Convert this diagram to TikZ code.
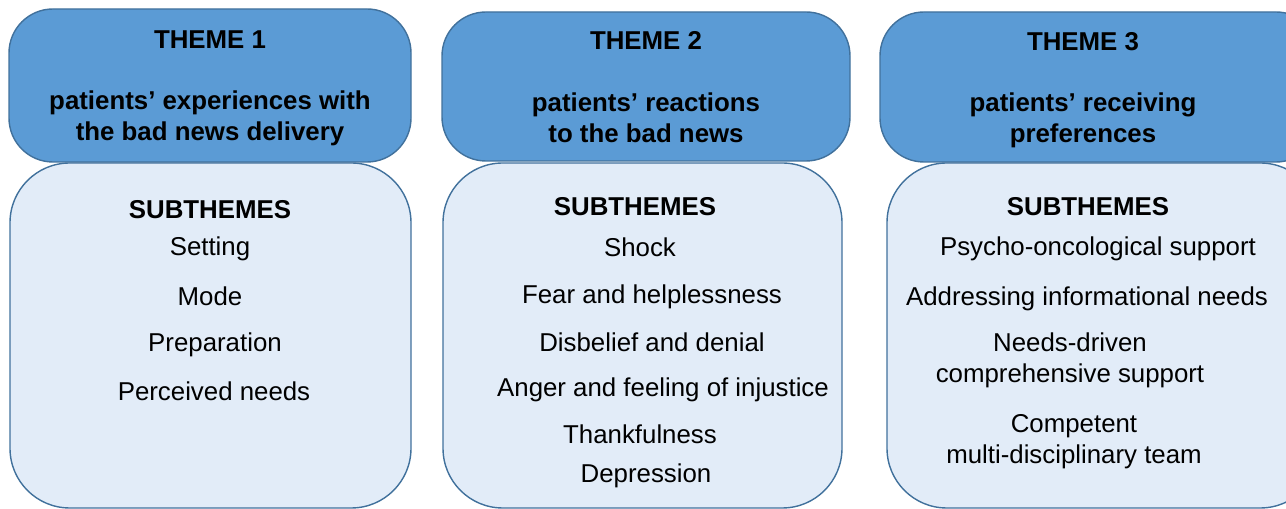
\documentclass[tikz,border=0pt]{standalone}
\usepackage{fontspec}
\setmainfont{Liberation Sans}
\usepackage{xcolor}
\usepackage{tikz}
\usetikzlibrary{positioning}
\definecolor{themeblue}{HTML}{5B9BD5}
\definecolor{themeedge}{HTML}{41719C}
\definecolor{subfill}{HTML}{E2ECF8}
\tikzset{
  headbox/.style={rounded corners=25pt,fill=themeblue,draw=themeedge,line width=0.8pt},
  subbox/.style={rounded corners=34pt,fill=subfill,draw=themeedge,line width=0.8pt},
  headtxt/.style={font=\fontsize{14.7}{17.8}\selectfont\bfseries,align=center,inner sep=0pt},
  subtxt/.style={font=\fontsize{14.7}{17.8}\selectfont,align=center,inner sep=0pt},
}
\begin{document}
\begin{tikzpicture}[x=0.02cm,y=-0.02cm]
    \clip (0,0) rectangle (1286,509);
    % lower boxes
    \draw[subbox] (10,163) rectangle (411,508);
    \draw[subbox] (443,163) rectangle (842,508);
    \draw[subbox] (887,163) rectangle (1320,508);
    % header boxes
    \draw[headbox] (9,9) rectangle (411,162);
    \draw[headbox] (442,12) rectangle (850,161);
    \draw[headbox] (880,12) rectangle (1320,162);
    % theme 1
    \node[headtxt] (t1) at (210,40) {THEME 1};
    \node[headtxt] (t1name) at (210,118) {patients’ experiences with\\the bad news delivery};
    \node[headtxt] (s1) at (210,210) {SUBTHEMES};
    \node[subtxt] (s1a) at (210,249) {Setting};
    \node[subtxt] (s1b) at (210,296) {Mode};
    \node[subtxt] (s1c) at (215,345) {Preparation};
    \node[subtxt] (s1d) at (214,391) {Perceived needs};
    % theme 2
    \node[headtxt] (t2) at (646,40) {THEME 2};
    \node[headtxt] (t2name) at (646,118) {patients’ reactions\\to the bad news};
    \node[headtxt] (s2) at (635,207) {SUBTHEMES};
    \node[subtxt] (s2a) at (640,247) {Shock};
    \node[subtxt] (s2b) at (652,297) {Fear and helplessness};
    \node[subtxt] (s2c) at (652,342) {Disbelief and denial};
    \node[subtxt] (s2d) at (663,390) {Anger and feeling of injustice};
    \node[subtxt] (s2e) at (640,434) {Thankfulness};
    \node[subtxt] (s2f) at (646,476) {Depression};
    % theme 3
    \node[headtxt] (t3) at (1083,42) {THEME 3};
    \node[headtxt] (t3name) at (1083,120) {patients’ receiving\\preferences};
    \node[headtxt] (s3) at (1088,207) {SUBTHEMES};
    \node[subtxt] (s3a) at (1098,249) {Psycho-oncological support};
    \node[subtxt] (s3b) at (1087,299) {Addressing informational needs};
    \node[subtxt] (s3c) at (1070,360) {Needs-driven\\comprehensive support};
    \node[subtxt] (s3d) at (1074,442) {Competent\\multi-disciplinary team};
  \end{tikzpicture}
\end{document}
